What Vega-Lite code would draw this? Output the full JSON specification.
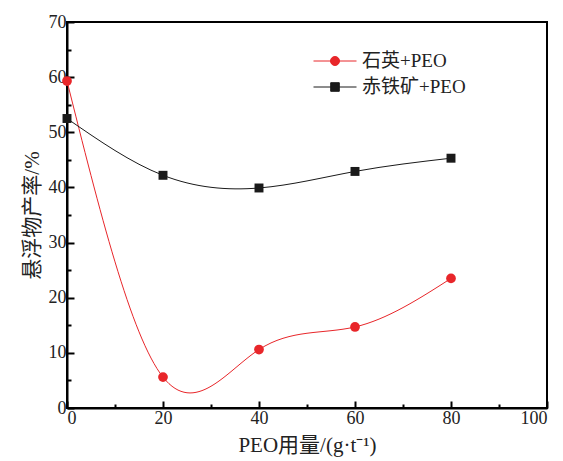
{
  "$schema": "https://vega.github.io/schema/vega-lite/v6.json",
  "width": 480,
  "height": 386,
  "autosize": {"type": "none"},
  "padding": {"left": 67, "top": 22, "right": 16, "bottom": 53},
  "background": "white",
  "config": {
    "view": {"stroke": "black", "strokeWidth": 2},
    "font": "Liberation Serif, Noto Sans CJK SC",
    "axis": {
      "domainColor": "black",
      "domainWidth": 2,
      "tickColor": "black",
      "tickWidth": 2,
      "grid": false,
      "labelFont": "Liberation Serif",
      "labelFontSize": 18,
      "labelColor": "#222",
      "labelOverlap": false,
      "labelBound": false,
      "titleFont": "Liberation Serif, Noto Sans CJK SC",
      "titleFontSize": 21,
      "titleFontWeight": "normal",
      "titleColor": "#222"
    }
  },
  "data": {
    "values": [
      {"x": 0, "y": 59.3, "s": "石英+PEO"},
      {"x": 20, "y": 5.6, "s": "石英+PEO"},
      {"x": 40, "y": 10.6, "s": "石英+PEO"},
      {"x": 60, "y": 14.7, "s": "石英+PEO"},
      {"x": 80, "y": 23.5, "s": "石英+PEO"},
      {"x": 0, "y": 52.5, "s": "赤铁矿+PEO"},
      {"x": 20, "y": 42.2, "s": "赤铁矿+PEO"},
      {"x": 40, "y": 39.9, "s": "赤铁矿+PEO"},
      {"x": 60, "y": 42.9, "s": "赤铁矿+PEO"},
      {"x": 80, "y": 45.3, "s": "赤铁矿+PEO"}
    ]
  },
  "encoding": {
    "x": {
      "field": "x", "type": "quantitative",
      "scale": {"domain": [0, 100], "nice": false},
      "axis": {
        "title": "PEO用量/(g·t⁻¹)",
        "values": [0, 10, 20, 30, 40, 50, 60, 70, 80, 90, 100],
        "labelExpr": "datum.value % 20 === 0 ? datum.label : ''",
        "tickSize": {"condition": {"test": "datum.value % 20 === 0", "value": -7}, "value": -4},
        "labelPadding": 8,
        "titlePadding": 4
      }
    },
    "y": {
      "field": "y", "type": "quantitative",
      "scale": {"domain": [0, 70], "nice": false},
      "axis": {
        "title": "悬浮物产率/%",
        "values": [0, 5, 10, 15, 20, 25, 30, 35, 40, 45, 50, 55, 60, 65, 70],
        "labelExpr": "datum.value % 10 === 0 ? datum.label : ''",
        "tickSize": {"condition": {"test": "datum.value % 10 === 0", "value": -7}, "value": -4},
        "labelPadding": 8,
        "titlePadding": 6
      }
    },
    "color": {
      "field": "s", "type": "nominal",
      "scale": {"domain": ["石英+PEO", "赤铁矿+PEO"], "range": ["#e8262a", "#1a1a1a"]},
      "legend": {
        "title": null,
        "orient": "none",
        "legendX": 246,
        "legendY": 29,
        "symbolOpacity": 1,
        "symbolSize": 1849,
        "symbolStrokeWidth": 1,
        "clipHeight": 20,
        "rowPadding": 6,
        "labelFont": "Liberation Serif, Noto Sans CJK SC",
        "labelFontSize": 19,
        "labelColor": "#222",
        "labelOffset": 5,
        "encode": {
          "symbols": {
            "update": {
              "stroke": {"scale": "color", "field": "value"},
              "fill": {"scale": "color", "field": "value"},
              "opacity": {"value": 1},
              "strokeWidth": {"value": 1}
            }
          }
        }
      }
    }
  },
  "layer": [
    {
      "mark": {"type": "line", "interpolate": "natural", "strokeWidth": 1}
    },
    {
      "transform": [{"filter": "datum.s === '石英+PEO'"}],
      "mark": {"type": "point", "shape": "circle", "filled": true, "size": 95, "opacity": 1}
    },
    {
      "transform": [{"filter": "datum.s === '赤铁矿+PEO'"}],
      "mark": {"type": "point", "shape": "square", "filled": true, "size": 80, "opacity": 1}
    },
    {
      "mark": {"type": "point", "filled": true, "opacity": 0, "size": 1849},
      "encoding": {
        "shape": {
          "field": "s", "type": "nominal",
          "scale": {
            "domain": ["石英+PEO", "赤铁矿+PEO"],
            "range": [
              "M-1,0H1M-0.21,0A0.21,0.21 0 1,0 0.21,0A0.21,0.21 0 1,0 -0.21,0Z",
              "M-1,0H1M-0.2,-0.2H0.2V0.2H-0.2Z"
            ]
          }
        }
      }
    }
  ]
}
